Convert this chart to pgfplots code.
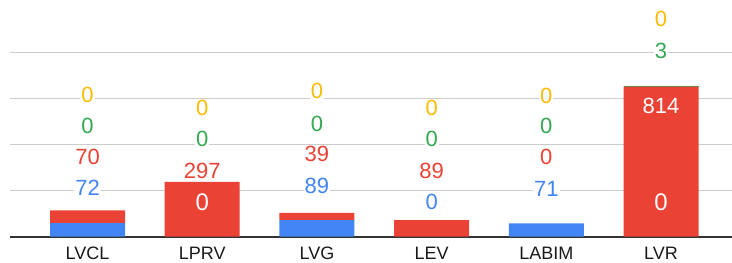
\documentclass[border=0pt]{standalone}
\usepackage{pgfplots}
\pgfplotsset{compat=1.18}
\usepackage{fontspec}
\setmainfont{Liberation Sans}
\definecolor{gblue}{HTML}{4285F4}
\definecolor{gred}{HTML}{EA4335}
\definecolor{ggreen}{HTML}{34A853}
\definecolor{gyellow}{HTML}{FBBC04}
\definecolor{ggrid}{HTML}{CCCCCC}
\definecolor{gbase}{HTML}{333333}
\tikzset{
  lbl/.style={font=\fontsize{22bp}{24bp}\selectfont, fill=white, inner sep=1bp},
  wlbl/.style={font=\fontsize{22bp}{24bp}\selectfont, text=white, inner sep=1bp},
}
\begin{document}
\begin{tikzpicture}
\path[use as bounding box] (-10bp,-26.5bp) rectangle (722bp,236.5bp);
\begin{axis}[
  at={(0,0)}, anchor=south west,
  scale only axis, width=722bp, height=236.5bp,
  xmin=-0.676, xmax=5.619, ymin=0, ymax=1285,
  ybar stacked, bar width=75bp,
  xtick={0,1,2,3,4,5}, xticklabels={LVCL,LPRV,LVG,LEV,LABIM,LVR},
  xticklabel style={anchor=base, yshift=-23bp, font=\fontsize{18bp}{20bp}\selectfont, text=black!90},
  ytick={250,500,750,1000}, yticklabels={},
  ymajorgrids, grid style={color=ggrid, line width=1.9bp},
  extra y ticks={0}, extra y tick labels={},
  extra y tick style={grid style={color=gbase, line width=2bp}},
  axis line style={draw=none}, major tick length=0pt, tick style={draw=none},
  clip=false,
]
\addplot[fill=gblue, draw=none] coordinates {(0,72) (1,0) (2,89) (3,0) (4,71) (5,0)};
\addplot[fill=gred, draw=none] coordinates {(0,70) (1,297) (2,39) (3,89) (4,0) (5,814)};
\addplot[fill=ggreen, draw=none] coordinates {(0,0) (1,0) (2,0) (3,0) (4,0) (5,3)};
\addplot[fill=gyellow, draw=none] coordinates {(0,0) (1,0) (2,0) (3,0) (4,0) (5,0)};
% LVCL
\node[lbl, text=gblue] at (axis cs:0,263.6) {72};
\node[lbl, text=gred] at (axis cs:0,432) {70};
\node[lbl, text=ggreen] at (axis cs:0,600.5) {0};
\node[lbl, text=gyellow] at (axis cs:0,769) {0};
% LPRV
\coordinate (w1) at (axis cs:1,187.5);
\node[lbl, text=gred] at (axis cs:1,356) {297};
\node[lbl, text=ggreen] at (axis cs:1,530) {0};
\node[lbl, text=gyellow] at (axis cs:1,698) {0};
% LVG
\node[lbl, text=gblue] at (axis cs:2,274.5) {89};
\node[lbl, text=gred] at (axis cs:2,448) {39};
\node[lbl, text=ggreen] at (axis cs:2,614) {0};
\node[lbl, text=gyellow] at (axis cs:2,791) {0};
% LEV
\node[lbl, text=gblue] at (axis cs:3,187.5) {0};
\node[lbl, text=gred] at (axis cs:3,356) {89};
\node[lbl, text=ggreen] at (axis cs:3,530) {0};
\node[lbl, text=gyellow] at (axis cs:3,698) {0};
% LABIM
\node[lbl, text=gblue] at (axis cs:4,258) {71};
\node[lbl, text=gred] at (axis cs:4,432) {0};
\node[lbl, text=ggreen] at (axis cs:4,600.5) {0};
\node[lbl, text=gyellow] at (axis cs:4,763.6) {0};
% LVR
\coordinate (w2) at (axis cs:5,187.5);
\coordinate (w3) at (axis cs:5,709);
\node[lbl, text=ggreen] at (axis cs:5,1008) {3};
\node[lbl, text=gyellow] at (axis cs:5,1182) {0};
\end{axis}
\node[wlbl, font=\fontsize{24bp}{26bp}\selectfont] at (w1) {0};
\node[wlbl, font=\fontsize{24bp}{26bp}\selectfont] at (w2) {0};
\node[wlbl] at (w3) {814};
\end{tikzpicture}
\end{document}
